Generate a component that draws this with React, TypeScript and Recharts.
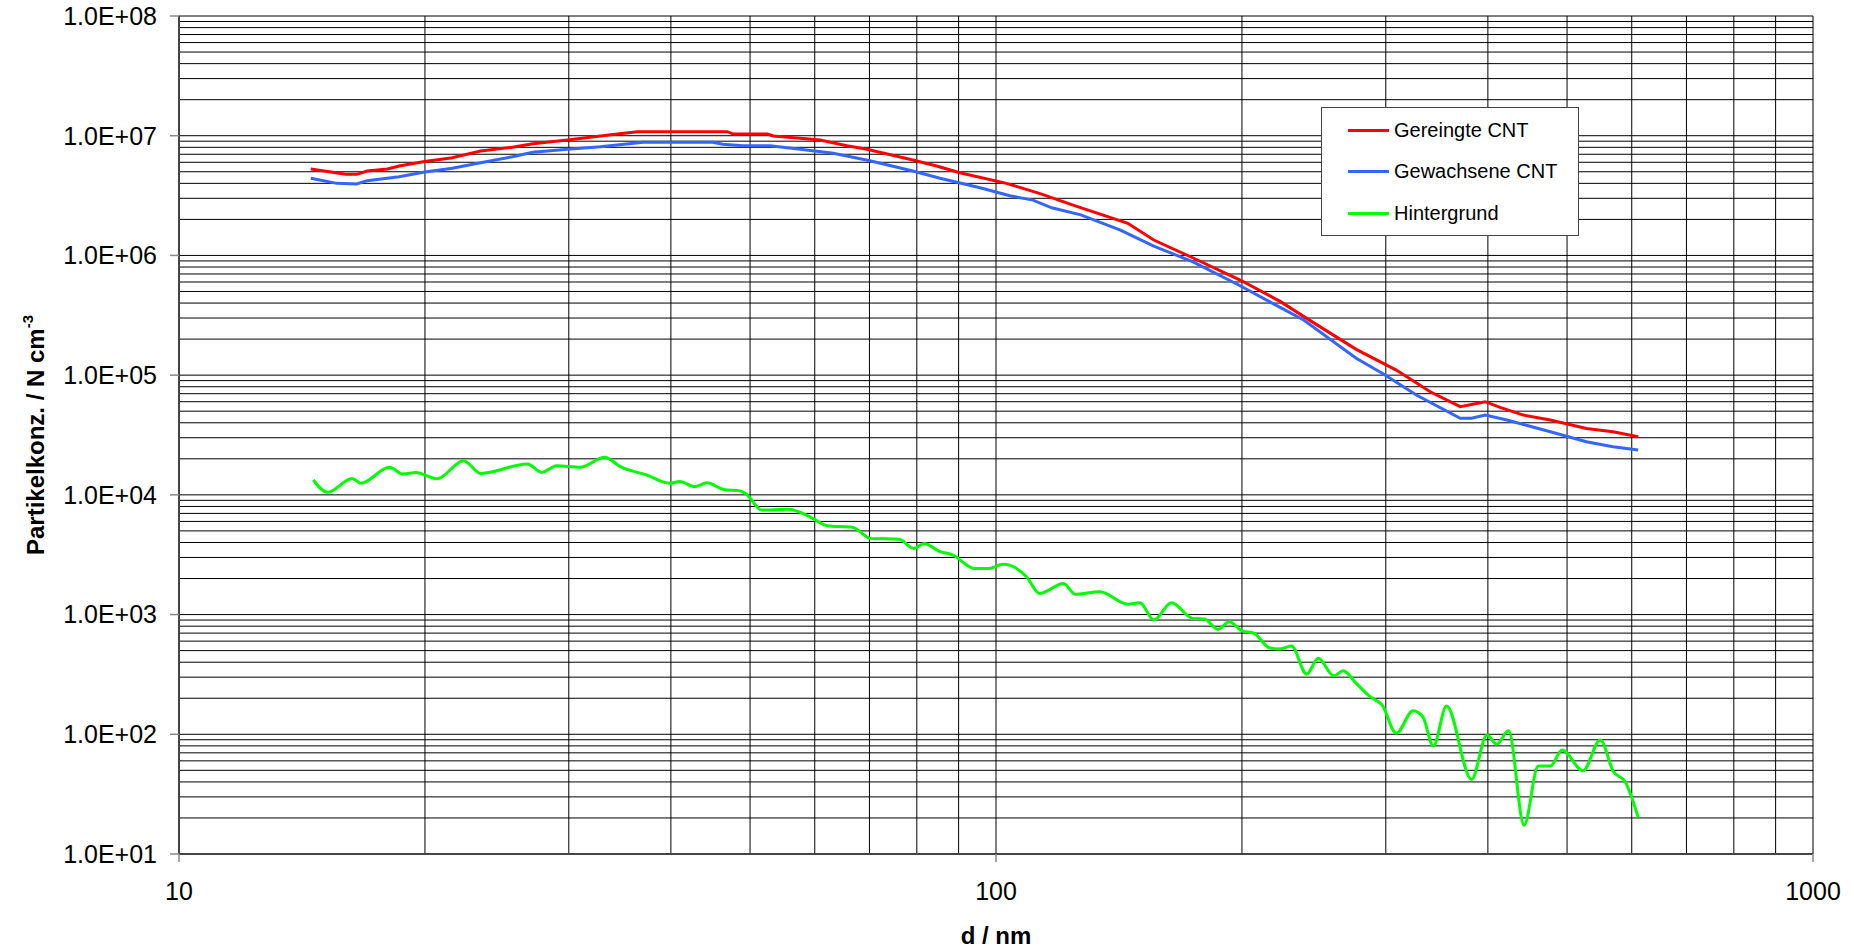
import React from "react";
import { LineChart, Line, XAxis, YAxis, ReferenceLine } from "recharts";

const FONT = "'Liberation Sans', Arial, Helvetica, sans-serif";

const seriesNames = ["Gereingte CNT", "Gewachsene CNT", "Hintergrund"];
const seriesColors = ["#FF0000", "#3366FF", "#00FF00"];

const redD = [14.5, 16.0, 16.5, 17.0, 18.0, 18.6, 19.9, 21.6, 23.4, 25.6, 27.1, 29.9, 32.8, 34.4, 36.4, 39.6, 46.9, 47.7, 52.5, 53.4, 57.6, 60.9, 65.7, 69.5, 79.1, 84.6, 90.3, 103, 113, 124, 145, 156, 173, 199, 223, 240, 276, 309, 340, 370, 397, 414, 442, 477, 528, 569, 611];
const redN = [5.27e6, 4.76e6, 4.76e6, 5.07e6, 5.27e6, 5.58e6, 6.06e6, 6.55e6, 7.45e6, 8.0e6, 8.58e6, 9.21e6, 9.94e6, 1.033e7, 1.08e7, 1.08e7, 1.08e7, 1.033e7, 1.033e7, 9.94e6, 9.51e6, 9.21e6, 8.25e6, 7.7e6, 6.27e6, 5.58e6, 4.91e6, 4.0e6, 3.3e6, 2.64e6, 1.854e6, 1.345e6, 9.75e5, 6.23e5, 4.11e5, 2.98e5, 1.643e5, 1.103e5, 7.27e4, 5.45e4, 6.0e4, 5.38e4, 4.64e4, 4.22e4, 3.59e4, 3.37e4, 3.06e4];

const blueD = [14.5, 15.6, 16.5, 17.0, 18.6, 19.9, 21.6, 23.4, 25.6, 27.1, 29.9, 32.8, 37.0, 45.0, 46.3, 49.0, 52.9, 57.6, 63.2, 70.1, 79.1, 85.4, 95.6, 104, 111, 117, 127, 142, 156, 174, 199, 223, 238, 276, 298, 327, 370, 382, 397, 422, 477, 528, 569, 611];
const blueN = [4.41e6, 4.0e6, 3.95e6, 4.21e6, 4.54e6, 4.95e6, 5.34e6, 5.95e6, 6.68e6, 7.27e6, 7.7e6, 8.09e6, 8.81e6, 8.81e6, 8.48e6, 8.25e6, 8.25e6, 7.7e6, 7.13e6, 6.18e6, 5.07e6, 4.41e6, 3.68e6, 3.15e6, 2.9e6, 2.5e6, 2.18e6, 1.63e6, 1.198e6, 8.86e5, 5.58e5, 3.66e5, 2.89e5, 1.382e5, 1.021e5, 6.82e4, 4.36e4, 4.36e4, 4.64e4, 4.22e4, 3.37e4, 2.78e4, 2.52e4, 2.37e4];

const greenD = [14.6, 15.2, 16.3, 16.7, 18.1, 18.8, 19.5, 20.7, 22.3, 23.4, 26.7, 27.8, 29.0, 31.0, 33.2, 34.7, 37.4, 39.9, 41.0, 42.8, 44.3, 46.4, 48.6, 49.5, 51.7, 55.7, 59.2, 62.2, 66.8, 70.2, 76.1, 79.3, 81.7, 85.1, 88.6, 94.1, 98.0, 102, 109, 113, 121, 125, 134, 145, 150, 156, 164, 174, 180, 187, 193, 200, 207, 216, 222, 230, 240, 248, 259, 266, 276, 287, 297, 309, 324, 333, 343, 356, 382, 399, 410, 424, 443, 461, 477, 493, 523, 549, 570, 589, 611];
const greenN = [1.33e4, 1.05e4, 1.37e4, 1.25e4, 1.70e4, 1.49e4, 1.54e4, 1.36e4, 1.93e4, 1.51e4, 1.81e4, 1.54e4, 1.75e4, 1.70e4, 2.06e4, 1.72e4, 1.46e4, 1.25e4, 1.29e4, 1.17e4, 1.26e4, 1.11e4, 1.08e4, 1.01e4, 7460, 7570, 6560, 5520, 5350, 4330, 4250, 3570, 3930, 3390, 3140, 2430, 2430, 2630, 2070, 1500, 1820, 1480, 1550, 1220, 1255, 900, 1255, 929, 917, 752, 871, 732, 697, 528, 515, 546, 318, 431, 308, 339, 266, 206, 175, 102, 157, 140, 79.7, 172, 42.0, 98.5, 82.8, 107, 17.4, 54.3, 54.3, 73.8, 49.6, 89.4, 48.6, 40.1, 20.2];

const xTicks = [10, 100, 1000];
const yTicks = [1e1, 1e2, 1e3, 1e4, 1e5, 1e6, 1e7, 1e8];
const gridMultipliers = [1, 2, 3, 4, 5, 6, 7, 8, 9];
const xGrid = [10, 100].flatMap((b) => gridMultipliers.map((m) => m * b)).concat([1000]);
const yGrid = [1e1, 1e2, 1e3, 1e4, 1e5, 1e6, 1e7].flatMap((b) => gridMultipliers.map((m) => m * b)).concat([1e8]);

const toRows = (ds: number[], ns: number[]) => ds.map((d, i) => ({ d, n: ns[i] }));
const redData = toRows(redD, redN);
const blueData = toRows(blueD, blueN);
const greenData = toRows(greenD, greenN);
const seriesData = [redData, blueData, greenData];
const seriesTypes: ("linear" | "monotone")[] = ["linear", "linear", "monotone"];

const fmtY = (v: number) => {
  const e = Math.round(Math.log10(v));
  return `1.0E+${String(e).padStart(2, "0")}`;
};

const YLabel = (props: any) => {
  const vb = props.viewBox || {};
  const cx = (vb.x || 0) + 35;
  const cy = (vb.y || 0) + (vb.height || 0) / 2;
  return (
    <text
      x={cx}
      y={cy}
      transform={`rotate(-90 ${cx} ${cy})`}
      textAnchor="middle"
      dominantBaseline="central"
      fontFamily={FONT}
      fontWeight="bold"
      fontSize={24}
      fill="#000"
    >
      Partikelkonz. / N cm
      <tspan dy="-0.55em" fontSize={15}>-3</tspan>
    </text>
  );
};

const XLabel = (props: any) => {
  const vb = props.viewBox || {};
  const cx = (vb.x || 0) + (vb.width || 0) / 2;
  const cy = (vb.y || 0) + 81;
  return (
    <text
      x={cx}
      y={cy}
      textAnchor="middle"
      dominantBaseline="central"
      fontFamily={FONT}
      fontWeight="bold"
      fontSize={24}
      fill="#000"
    >
      d / nm
    </text>
  );
};

export default function App() {
  return (
    <div style={{ position: "absolute", left: 0, top: 0, width: 1854, height: 948, background: "#fff" }}>
      <LineChart width={1854} height={948} margin={{ top: 16, right: 41, bottom: 0, left: 0 }}>
        <XAxis
          dataKey="d"
          type="number"
          scale="log"
          domain={[10, 1000]}
          ticks={xTicks}
          allowDataOverflow
          height={94}
          tickSize={8}
          tickMargin={20}
          axisLine={{ stroke: "#444", strokeWidth: 2 }}
          tickLine={{ stroke: "#888", strokeWidth: 1.5 }}
          tick={{ fontSize: 25, fill: "#000", fontFamily: FONT }}
          label={<XLabel />}
        />
        <YAxis
          type="number"
          scale="log"
          domain={[10, 1e8]}
          ticks={yTicks}
          allowDataOverflow
          width={179}
          tickSize={9}
          tickMargin={13}
          tickFormatter={fmtY}
          axisLine={{ stroke: "#444", strokeWidth: 2 }}
          tickLine={{ stroke: "#888", strokeWidth: 1.5 }}
          tick={{ fontSize: 25, fill: "#000", fontFamily: FONT }}
          label={<YLabel />}
        />
        {yGrid.map((v) => (
          <ReferenceLine key={`yg${v}`} y={v} stroke="#000" strokeWidth={1} />
        ))}
        {xGrid.map((v) => (
          <ReferenceLine key={`xg${v}`} x={v} stroke="#000" strokeWidth={1} />
        ))}
        {seriesData.map((data, i) => (
          <Line
            key={seriesNames[i]}
            data={data}
            dataKey="n"
            name={seriesNames[i]}
            type={seriesTypes[i]}
            stroke={seriesColors[i]}
            strokeWidth={3}
            dot={false}
            activeDot={false}
            isAnimationActive={false}
          />
        ))}
      </LineChart>
      <div
        style={{
          position: "absolute",
          left: 1321,
          top: 107,
          width: 256,
          height: 127,
          border: "1px solid #444",
          background: "#fff",
          fontFamily: FONT,
          fontSize: 20,
          color: "#000",
        }}
      >
        {seriesNames.map((name, i) => (
          <div
            key={name}
            style={{
              position: "absolute",
              left: 26,
              top: [22, 63, 105][i] - 12,
              height: 24,
              display: "flex",
              alignItems: "center",
              whiteSpace: "nowrap",
            }}
          >
            <span style={{ display: "inline-block", width: 41, height: 3, background: seriesColors[i], marginRight: 5 }} />
            <span>{name}</span>
          </div>
        ))}
      </div>
    </div>
  );
}
